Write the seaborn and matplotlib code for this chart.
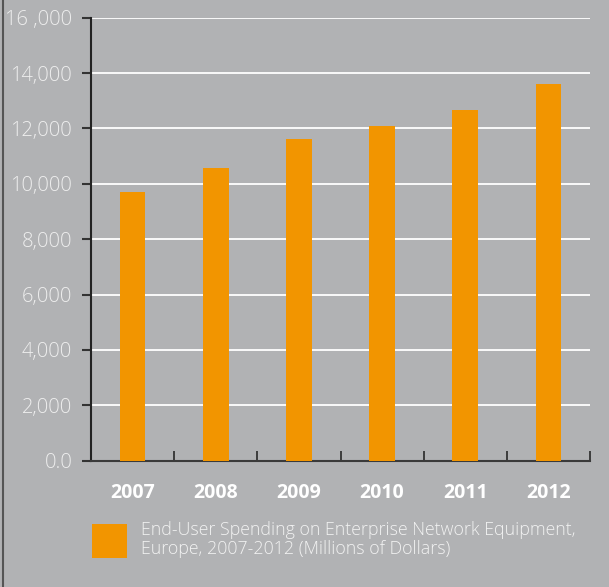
import matplotlib
matplotlib.use("Agg")
import matplotlib.pyplot as plt
import seaborn as sns
import pandas as pd

years = ["2007", "2008", "2009", "2010", "2011", "2012"]
spending = [9710, 10580, 11630, 12100, 12680, 13620]
y_ticks = [0, 2000, 4000, 6000, 8000, 10000, 12000, 14000, 16000]
y_tick_labels = ["0.0", "2,000", "4,000", "6,000", "8,000", "10,000", "12,000", "14,000", "16 ,000"]
series_label = "End-User Spending on Enterprise Network Equipment,\nEurope, 2007-2012 (Millions of Dollars)"

BG = "#b1b2b4"
ORANGE = "#f29500"

df = pd.DataFrame({"year": years, "spending": spending})

sns.set_theme(style="white")
plt.rcParams["font.family"] = ["Open Sans", "DejaVu Sans"]

fig = plt.figure(figsize=(6.09, 5.87), dpi=100, facecolor=BG)
ax = fig.add_axes([91 / 609, (587 - 460.7) / 587, 499 / 609, 443 / 587])
ax.set_facecolor(BG)

sns.barplot(data=df, x="year", y="spending", color=ORANGE, width=0.31,
            saturation=1, ax=ax, label=series_label, zorder=3,
            edgecolor="none", linewidth=0)

ax.set_xlim(-0.5, len(years) - 0.5)
ax.set_ylim(0, 16000)
ax.set_yticks(y_ticks)
ax.set_yticklabels(y_tick_labels, color="#eeeeee", fontsize=14.5, fontweight="light")
ax.set_xticklabels(years, color="white", fontsize=14, fontweight="bold")
ax.set_xlabel("")
ax.set_ylabel("")

# white gridlines
ax.yaxis.grid(True, color="white", linewidth=1.3, zorder=1)
ax.xaxis.grid(False)
ax.set_axisbelow(True)

for side in ["top", "right"]:
    ax.spines[side].set_visible(False)
ax.spines["left"].set_color("#222222")
ax.spines["left"].set_linewidth(1.5)
ax.spines["bottom"].set_color("#3a3a3a")
ax.spines["bottom"].set_linewidth(1.5)

ax.tick_params(axis="y", which="major", left=True, length=6.5, width=1.5,
               color="#333333", pad=7)
ax.tick_params(axis="x", which="major", bottom=False, pad=10)

# category boundary ticks pointing up
ax.set_xticks([i + 0.5 for i in range(len(years))], minor=True)
ax.tick_params(axis="x", which="minor", bottom=True, direction="in",
               length=7.5, width=1.3, color="#333333")

leg = ax.legend(loc="upper left", bbox_to_anchor=(92 / 609, 1 - 521 / 587),
                bbox_transform=fig.transFigure, frameon=False, fontsize=12.8,
                handlelength=1.97, handleheight=2.65, handletextpad=0.8,
                borderpad=0, borderaxespad=0)
for t in leg.get_texts():
    t.set_color("#f2f2f2")
    t.set_fontweight("light")
    t.set_linespacing(1.05)

# thin dark line along the left edge of the panel
fig.add_artist(plt.Line2D([3 / 609, 3 / 609], [0, 1], transform=fig.transFigure,
                          color="#555555", linewidth=1.5))

fig.savefig("out.png", dpi=100, facecolor=BG)
